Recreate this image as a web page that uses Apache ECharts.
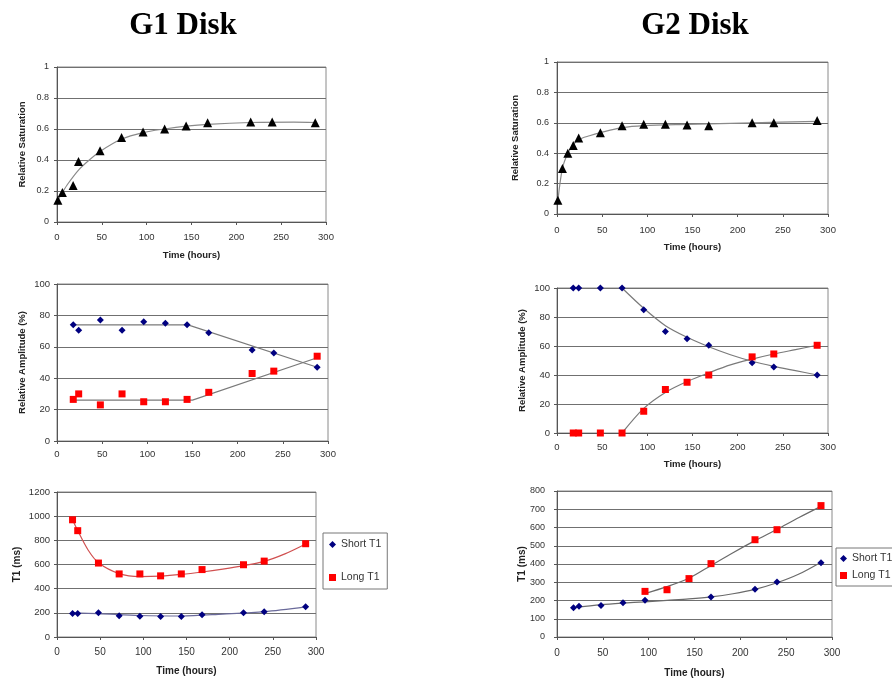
<!DOCTYPE html>
<html><head><meta charset="utf-8">
<script src="https://cdn.jsdelivr.net/npm/echarts/dist/echarts.min.js"></script>
<style>html,body{margin:0;padding:0;background:#fff}#c{width:892px;height:680px}</style>
</head><body><div id="c"></div>
<script>
// ---------- DATA ----------
const panelTitles = ['G1 Disk', 'G2 Disk'];
const xLabel = 'Time (hours)';
const satLabel = 'Relative Saturation';
const ampLabel = 'Relative Amplitude (%)';
const t1Label = 'T1 (ms)';
const seriesNames = ['Short T1', 'Long T1'];

// G1 saturation
const g1SatTime = [1, 6, 18, 24, 48, 72, 96, 120, 144, 168, 216, 240, 288];
const g1Sat     = [0.14, 0.19, 0.235, 0.39, 0.46, 0.545, 0.58, 0.60, 0.62, 0.64, 0.645, 0.645, 0.64];
const g1SatFitTime = [1, 6, 12, 24, 36, 48, 72, 96, 120, 144, 168, 216, 264, 288];
const g1SatFit     = [0.14, 0.19, 0.245, 0.335, 0.40, 0.455, 0.535, 0.577, 0.60, 0.618, 0.63, 0.642, 0.645, 0.642];

// G2 saturation
const g2SatTime = [1, 6, 12, 18, 24, 48, 72, 96, 120, 144, 168, 216, 240, 288];
const g2Sat     = [0.09, 0.30, 0.40, 0.45, 0.50, 0.535, 0.58, 0.59, 0.59, 0.585, 0.58, 0.60, 0.60, 0.615];
const g2SatFitTime = [1, 6, 12, 18, 24, 36, 48, 72, 96, 144, 216, 288];
const g2SatFit     = [0.09, 0.30, 0.40, 0.455, 0.49, 0.515, 0.535, 0.568, 0.582, 0.59, 0.60, 0.61];

// G1 relative amplitude
const g1AmpTime  = [18, 24, 48, 72, 96, 120, 144, 168, 216, 240, 288];
const g1AmpShort = [74, 70.5, 77, 70.5, 76, 75, 74, 69, 58, 56, 47];
const g1AmpLong  = [26.5, 30, 23, 30, 25, 25, 26.5, 31, 43, 44.5, 54];
const g1AmpShortFitTime = [18, 145, 288];
const g1AmpShortFit     = [74, 74, 47];
const g1AmpLongFitTime  = [18, 150, 288];
const g1AmpLongFit      = [26, 26, 53];

// G2 relative amplitude
const g2AmpTime  = [18, 24, 48, 72, 96, 120, 144, 168, 216, 240, 288];
const g2AmpShort = [100, 100, 100, 100, 85, 70, 65, 60.5, 48.5, 45.5, 40];
const g2AmpLong  = [0, 0, 0, 0, 15, 30, 35, 40, 52.5, 54.5, 60.5];
const g2AmpFitTime  = [72, 96, 120, 144, 168, 192, 216, 240, 264, 288];
const g2AmpShortFit = [100, 86, 74, 66, 59.5, 54, 49.5, 46, 43, 40];
const g2AmpLongFit  = [0, 17, 28, 35.5, 41.5, 47, 51, 54.5, 57.5, 60.5];

// G1 T1
const g1T1Time  = [18, 24, 48, 72, 96, 120, 144, 168, 216, 240, 288];
const g1T1Short = [195, 195, 200, 175, 172, 170, 170, 185, 200, 210, 250];
const g1T1Long  = [970, 880, 612, 522, 522, 506, 522, 558, 598, 628, 772];
const g1T1ShortFitTime = [18, 48, 96, 144, 192, 240, 288];
const g1T1ShortFit     = [200, 194, 178, 174, 190, 210, 250];
const g1T1LongFitTime  = [18, 24, 36, 48, 72, 96, 120, 144, 168, 192, 216, 240, 264, 288];
const g1T1LongFit      = [970, 880, 720, 615, 525, 500, 504, 518, 538, 562, 590, 626, 688, 770];

// G2 T1
const g2T1ShortTime = [18, 24, 48, 72, 96, 168, 216, 240, 288];
const g2T1Short     = [160, 168, 173, 187, 201, 219, 261, 301, 407];
const g2T1LongTime  = [96, 120, 144, 168, 216, 240, 288];
const g2T1Long      = [250, 259, 320, 402, 533, 588, 720];
const g2T1ShortFitTime = [18, 48, 72, 96, 120, 144, 168, 192, 216, 240, 264, 288];
const g2T1ShortFit     = [160, 177, 186, 193, 201, 209, 220, 237, 261, 297, 345, 410];
const g2T1LongFitTime  = [96, 120, 144, 168, 192, 216, 240, 264, 288];
const g2T1LongFit      = [238, 276, 322, 392, 462, 528, 590, 655, 716];

// axis ranges
const xRange = {min: 0, max: 300, interval: 50};
const satRange = {min: 0, max: 1, interval: 0.2};
const ampRange = {min: 0, max: 100, interval: 20};
const g1T1Range = {min: 0, max: 1200, interval: 200};
const g2T1Range = {min: 0, max: 800, interval: 100};

// ---------- CHART ----------
const zip = (xs, ys) => xs.map((x, i) => [x, ys[i]]);
const FONT = 'Arial, "Liberation Sans", sans-serif';
const NAVY = '#000080', RED = '#ff0000';

const grids = [
  {left: 57, top: 67, width: 269, height: 155},
  {left: 557, top: 62, width: 271, height: 152},
  {left: 57, top: 284, width: 271, height: 157},
  {left: 557, top: 288, width: 271, height: 145},
  {left: 57, top: 492, width: 259, height: 145},
  {left: 557, top: 491, width: 275, height: 146}
].map(g => Object.assign({show: true, borderColor: '#8a8a8a', borderWidth: 1, backgroundColor: '#fff', containLabel: false, outerBoundsMode: 'none'}, g));

function xAx(i, name, nameGap, margin, fs) {
  return Object.assign({
    type: 'value', gridIndex: i, name: name, nameLocation: 'middle', nameGap: nameGap, nameMoveOverlap: false,
    nameTextStyle: {fontFamily: FONT, fontWeight: 'bold', fontSize: fs, color: '#222'},
    axisLine: {show: true, onZero: false, lineStyle: {color: '#555', width: 1}},
    axisTick: {show: true, length: 3, lineStyle: {color: '#555'}},
    axisLabel: {fontFamily: FONT, fontSize: fs, color: '#333', margin: margin, formatter: v => String(v)},
    splitLine: {show: false}
  }, xRange);
}
function yAx(i, range, name, nameGap, margin, fs, nfs) {
  return Object.assign({
    type: 'value', gridIndex: i, name: name, nameLocation: 'middle', nameGap: nameGap, nameRotate: 90, nameMoveOverlap: false,
    nameTextStyle: {fontFamily: FONT, fontWeight: 'bold', fontSize: nfs, color: '#222'},
    axisLine: {show: true, lineStyle: {color: '#555', width: 1}},
    axisTick: {show: true, length: 3, lineStyle: {color: '#555'}},
    axisLabel: {fontFamily: FONT, fontSize: fs, color: '#333', margin: margin, formatter: v => String(+v.toFixed(2))},
    splitLine: {show: true, lineStyle: {color: '#707070', width: 1}}
  }, range);
}

function fit(i, xs, ys, color, smooth) {
  return {type: 'line', xAxisIndex: i, yAxisIndex: i, data: zip(xs, ys), smooth: smooth,
    showSymbol: false, symbol: 'none', silent: true, z: 2, lineStyle: {color: color, width: 1.2}};
}
function pts(i, name, xs, ys, symbol, size, color) {
  return {type: 'scatter', name: name, xAxisIndex: i, yAxisIndex: i, data: zip(xs, ys), symbol: symbol,
    symbolSize: size, itemStyle: {color: color, opacity: 1}, z: 5, silent: true};
}

const titleFont = {fontFamily: '"Liberation Serif", "Times New Roman", serif', fontWeight: 'bold', fontSize: 31, color: '#000'};
const option = {
  animation: false,
  backgroundColor: '#fff',
  title: [
    {text: panelTitles[0], left: 183, top: 10, textAlign: 'center', padding: 0, textStyle: titleFont},
    {text: panelTitles[1], left: 695, top: 10, textAlign: 'center', padding: 0, textStyle: titleFont}
  ],
  legend: [
    {left: 323, top: 533, orient: 'vertical', selectedMode: false, itemWidth: 7, itemHeight: 7, itemGap: 22,
     padding: [6, 6, 6, 6], borderColor: '#777', borderWidth: 1, backgroundColor: '#fff',
     textStyle: {fontFamily: FONT, fontSize: 10.5, color: '#333'},
     data: [{name: seriesNames[0], icon: 'diamond'}, {name: seriesNames[1], icon: 'rect'}]},
    {left: 836, top: 548, orient: 'vertical', selectedMode: false, itemWidth: 7, itemHeight: 7, itemGap: 6,
     padding: [5, 6, 5, 4], borderColor: '#777', borderWidth: 1, backgroundColor: '#fff',
     textStyle: {fontFamily: FONT, fontSize: 10.5, color: '#333'},
     data: [{name: seriesNames[0], icon: 'diamond'}, {name: seriesNames[1], icon: 'rect'}]}
  ],
  grid: grids,
  xAxis: [
    xAx(0, xLabel, 28, 10, 9.5),
    xAx(1, xLabel, 28, 11, 9.5),
    xAx(2, '', 20, 8, 9.5),
    xAx(3, xLabel, 26, 9, 9.5),
    xAx(4, xLabel, 29, 10, 10),
    xAx(5, xLabel, 31, 11, 10)
  ],
  yAxis: [
    yAx(0, satRange, satLabel, 30, 8, 9, 9.5),
    yAx(1, satRange, satLabel, 37, 8, 9, 9.5),
    yAx(2, ampRange, ampLabel, 30, 7, 9.5, 9.5),
    yAx(3, ampRange, ampLabel, 30, 7, 9.5, 9.5),
    yAx(4, g1T1Range, t1Label, 35, 7, 9.5, 10),
    yAx(5, g2T1Range, t1Label, 30, 12, 9, 10)
  ],
  series: [
    fit(0, g1SatFitTime, g1SatFit, '#8a8a8a', 0.3),
    pts(0, 'g1sat', g1SatTime, g1Sat, 'triangle', 9, '#000'),
    fit(1, g2SatFitTime, g2SatFit, '#8a8a8a', 0.3),
    pts(1, 'g2sat', g2SatTime, g2Sat, 'triangle', 9, '#000'),

    fit(2, g1AmpShortFitTime, g1AmpShortFit, '#7a7a7a', false),
    fit(2, g1AmpLongFitTime, g1AmpLongFit, '#7a7a7a', false),
    pts(2, 'g1ampS', g1AmpTime, g1AmpShort, 'diamond', 7, NAVY),
    pts(2, 'g1ampL', g1AmpTime, g1AmpLong, 'rect', 7, RED),

    fit(3, g2AmpFitTime, g2AmpShortFit, '#7a7a7a', 0.3),
    fit(3, g2AmpFitTime, g2AmpLongFit, '#7a7a7a', 0.3),
    pts(3, 'g2ampS', g2AmpTime, g2AmpShort, 'diamond', 7, NAVY),
    pts(3, 'g2ampL', g2AmpTime, g2AmpLong, 'rect', 7, RED),

    fit(4, g1T1ShortFitTime, g1T1ShortFit, '#6a6a9a', 0.3),
    fit(4, g1T1LongFitTime, g1T1LongFit, '#d05050', 0.3),
    pts(4, seriesNames[0], g1T1Time, g1T1Short, 'diamond', 7, NAVY),
    pts(4, seriesNames[1], g1T1Time, g1T1Long, 'rect', 7, RED),

    fit(5, g2T1ShortFitTime, g2T1ShortFit, '#6a6a6a', 0.3),
    fit(5, g2T1LongFitTime, g2T1LongFit, '#6a6a6a', 0.3),
    pts(5, seriesNames[0], g2T1ShortTime, g2T1Short, 'diamond', 7, NAVY),
    pts(5, seriesNames[1], g2T1LongTime, g2T1Long, 'rect', 7, RED)
  ]
};
const chart = echarts.init(document.getElementById('c'), null, {renderer: 'canvas', width: 892, height: 680});
chart.setOption(option);
</script></body></html>
